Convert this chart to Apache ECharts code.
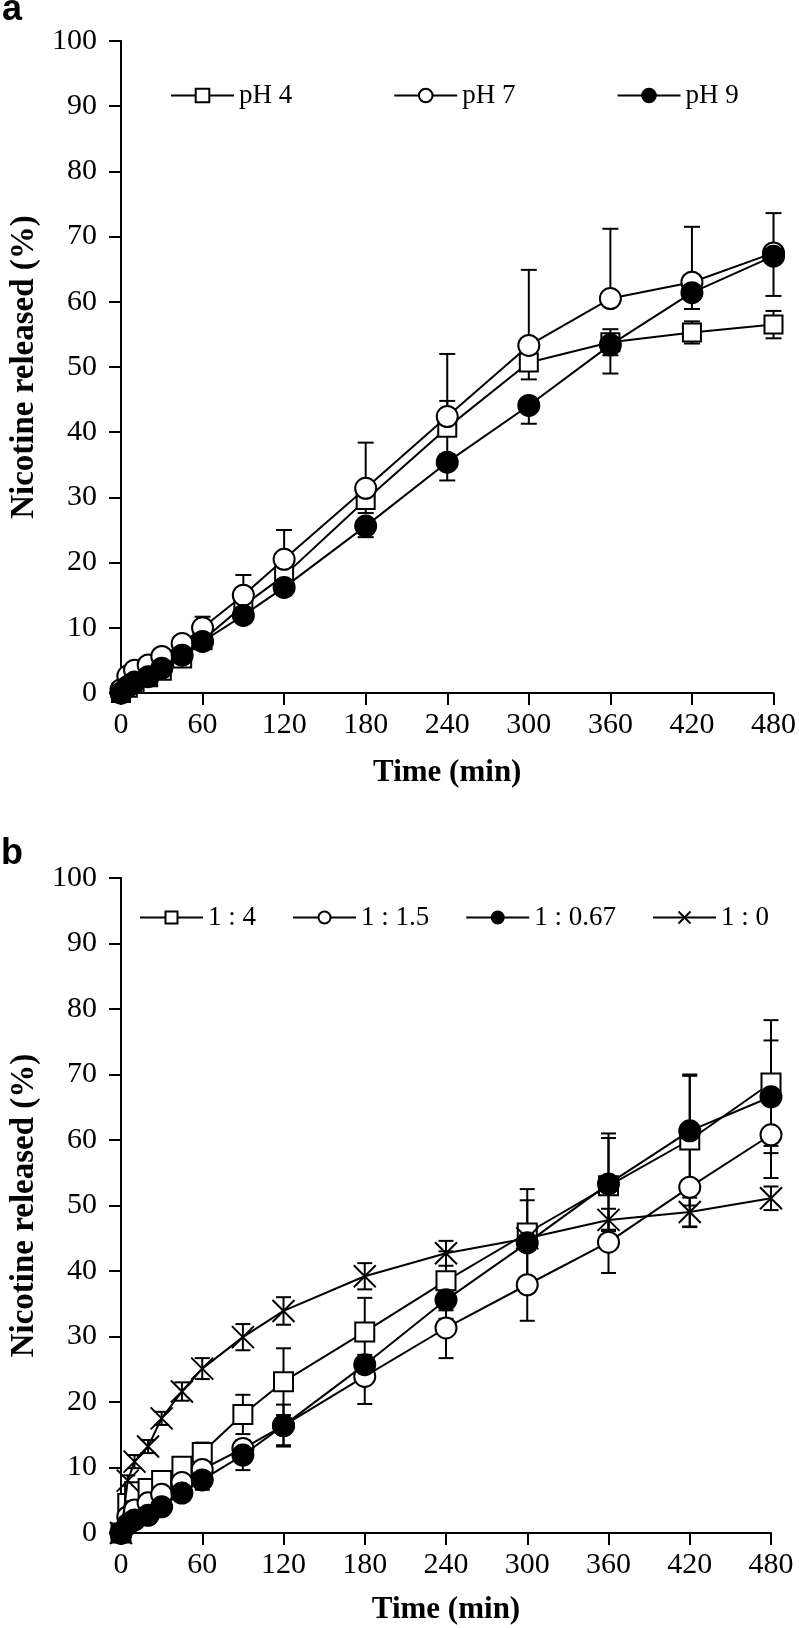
<!DOCTYPE html>
<html><head><meta charset="utf-8">
<script src="https://cdn.jsdelivr.net/npm/echarts@6/dist/echarts.min.js"></script>
<style>html,body{margin:0;padding:0;background:#fff}#c{width:799px;height:1628px}</style>
</head><body><div id="c"></div>
<script>
// ---- data ----
const times = [0, 5, 10, 20, 30, 45, 60, 90, 120, 180, 240, 300, 360, 420, 480];
const xMin = 0, xMax = 480, xStep = 60;
const yMin = 0, yMax = 100, yStep = 10;

// panel a
const phNames = ['pH 4', 'pH 7', 'pH 9'];
const pH4   = [0, 0.8, 1.5, 2.4, 3.4, 5.3, 8.1, 13.4, 18.0, 29.6, 40.7, 50.7, 53.8, 55.3, 56.5];
const pH4Sd = [0, 0.3, 0.4, 0.5, 0.6, 0.8, 1.0, 1.5, 2.0, 2.0, 4.1, 2.6, 2.0, 1.7, 2.1];
const pH7   = [0.5, 2.6, 3.5, 4.3, 5.6, 7.6, 10.0, 15.0, 20.5, 31.4, 42.4, 53.3, 60.5, 63.0, 67.5];
const pH7Sd = [0, 0.3, 0.4, 0.5, 0.6, 0.8, 1.7, 3.1, 4.5, 7.0, 9.6, 11.6, 10.7, 8.5, 6.1];
const pH9   = [0, 1.0, 1.7, 2.5, 3.8, 5.8, 7.9, 11.9, 16.2, 25.6, 35.4, 44.1, 53.4, 61.4, 67.0];
const pH9Sd = [0, 0.2, 0.3, 0.4, 0.5, 0.6, 0.8, 1.0, 1.2, 1.7, 2.8, 2.8, 4.4, 2.5, 6.1];

// panel b
const ratioNames = ['1 : 4', '1 : 1.5', '1 : 0.67', '1 : 0'];
const r4    = [0, 4.5, 6.3, 6.8, 8.0, 10.2, 12.3, 18.1, 23.1, 30.7, 38.5, 45.8, 53.0, 60.0, 68.7];
const r4Sd  = [0, 0.5, 0.8, 0.8, 1.0, 1.2, 1.5, 3.0, 5.1, 5.2, 4.5, 6.7, 8.0, 10.0, 9.6];
const r15   = [0, 2.5, 3.5, 4.6, 5.9, 7.7, 9.7, 12.9, 16.4, 23.9, 31.3, 37.9, 44.4, 52.8, 60.8];
const r15Sd = [0, 0.3, 0.4, 0.5, 0.6, 0.8, 1.0, 2.0, 3.0, 4.2, 4.6, 5.5, 4.7, 6.1, 6.6];
const r067  = [0, 1.3, 2.0, 2.7, 4.0, 6.1, 8.1, 11.9, 16.4, 25.7, 35.6, 44.3, 53.3, 61.4, 66.6];
const r067Sd= [0, 0.3, 0.4, 0.5, 0.6, 0.8, 1.5, 2.3, 3.2, 1.5, 2.9, 6.5, 7.0, 8.4, 8.6];
const r0    = [0, 8.0, 10.9, 13.2, 17.5, 21.6, 25.1, 29.9, 33.9, 39.2, 42.7, 45.0, 47.8, 49.0, 51.1];
const r0Sd  = [0, 0.8, 1.0, 1.0, 1.0, 1.4, 1.6, 2.0, 2.1, 2.0, 1.9, 1.5, 1.7, 2.2, 1.8];

const yTitle = 'Nicotine released (%)';
const xTitle = 'Time (min)';

// ---- chart ----
const SERIF = '"Liberation Serif", "Times New Roman", serif';
const crossPath = 'path://M0,0L20,20M20,0L0,20';

function lineSeries(name, mean, symbol, fill, gi, size, z) {
  return {
    type: 'line', name, xAxisIndex: gi, yAxisIndex: gi,
    data: times.map((t, i) => [t, mean[i]]),
    symbol, symbolSize: size, showSymbol: true, showAllSymbol: true,
    lineStyle: { color: '#000', width: 2 },
    itemStyle: { color: fill, borderColor: '#000', borderWidth: 2 },
    z, animation: false, emphasis: { disabled: true }, silent: true
  };
}
function errSeries(mean, sd, dir, gi, capW) {
  return {
    type: 'custom', xAxisIndex: gi, yAxisIndex: gi, z: 1, silent: true, animation: false,
    data: times.map((t, i) => [t, mean[i], sd[i]]),
    encode: { x: 0, y: 1 },
    renderItem(params, api) {
      const t = api.value(0), m = api.value(1), s = api.value(2);
      if (!s) return null;
      const c = api.coord([t, m]);
      const children = [];
      const add = (v) => {
        const p = api.coord([t, v]);
        children.push({ type: 'line', shape: { x1: c[0], y1: c[1], x2: p[0], y2: p[1] }, style: { stroke: '#000', lineWidth: 2 } });
        children.push({ type: 'line', shape: { x1: p[0] - capW / 2, y1: p[1], x2: p[0] + capW / 2, y2: p[1] }, style: { stroke: '#000', lineWidth: 2 } });
      };
      if (dir !== 'down') add(m + s);
      if (dir !== 'up') add(m - s);
      return { type: 'group', children };
    }
  };
}
function xAxis(gi, gap) {
  return {
    type: 'value', gridIndex: gi, min: xMin, max: xMax, interval: xStep,
    name: xTitle, nameLocation: 'middle', nameGap: gap,
    nameTextStyle: { fontFamily: SERIF, fontWeight: 'bold', fontSize: 31, color: '#000' },
    axisLine: { lineStyle: { color: '#000', width: 2 } },
    axisTick: { length: 12, lineStyle: { color: '#000', width: 2 } },
    axisLabel: { fontFamily: SERIF, fontSize: 30, color: '#000', margin: 17 },
    splitLine: { show: false }
  };
}
function yAxis(gi) {
  return {
    type: 'value', gridIndex: gi, min: yMin, max: yMax, interval: yStep,
    name: yTitle, nameLocation: 'middle', nameGap: 80,
    nameTextStyle: { fontFamily: SERIF, fontWeight: 'bold', fontSize: 33, color: '#000' },
    axisLine: { show: true, lineStyle: { color: '#000', width: 2 } },
    axisTick: { show: true, length: 12, lineStyle: { color: '#000', width: 2 } },
    axisLabel: { fontFamily: SERIF, fontSize: 30, color: '#000', margin: 24 },
    splitLine: { show: false }
  };
}

const chart = echarts.init(document.getElementById('c'), null, { renderer: 'canvas' });
chart.setOption({
  backgroundColor: '#fff',
  animation: false,
  grid: [
    { left: 110, right: 22, top: 41, height: 652 },
    { left: 108, right: 28, top: 878, height: 655 }
  ],
  xAxis: [xAxis(0, 64), xAxis(1, 61)],
  yAxis: [yAxis(0), yAxis(1)],
  legend: [
    { data: phNames, left: 165, top: 77, itemWidth: 63, itemHeight: 17, itemGap: 101, selectedMode: false,
      textStyle: { fontFamily: SERIF, fontSize: 27, color: '#000' } },
    { data: ratioNames, left: 134, top: 899, itemWidth: 63, itemHeight: 15, itemGap: 36, selectedMode: false,
      textStyle: { fontFamily: SERIF, fontSize: 27, color: '#000' } }
  ],
  graphic: [
    { type: 'text', left: 2, top: -8, style: { text: 'a', font: 'bold 36px "Liberation Sans", Arial, sans-serif', fill: '#000' } },
    { type: 'text', left: 1, top: 836, style: { text: 'b', font: 'bold 36px "Liberation Sans", Arial, sans-serif', fill: '#000' } }
  ],
  series: [
    errSeries(pH4, pH4Sd, 'both', 0, 16),
    errSeries(pH7, pH7Sd, 'up', 0, 16),
    errSeries(pH9, pH9Sd, 'down', 0, 16),
    lineSeries('pH 4', pH4, 'rect', '#fff', 0, 18, 3),
    lineSeries('pH 7', pH7, 'circle', '#fff', 0, 21, 4),
    lineSeries('pH 9', pH9, 'circle', '#000', 0, 21, 5),

    errSeries(r4, r4Sd, 'both', 1, 15),
    errSeries(r15, r15Sd, 'down', 1, 15),
    errSeries(r067, r067Sd, 'both', 1, 15),
    errSeries(r0, r0Sd, 'both', 1, 15),
    lineSeries('1 : 4', r4, 'rect', '#fff', 1, 19, 3),
    lineSeries('1 : 1.5', r15, 'circle', '#fff', 1, 21, 4),
    lineSeries('1 : 0.67', r067, 'circle', '#000', 1, 21, 5),
    lineSeries('1 : 0', r0, crossPath, '#000', 1, 22, 6)
  ]
});
</script>
</body></html>
